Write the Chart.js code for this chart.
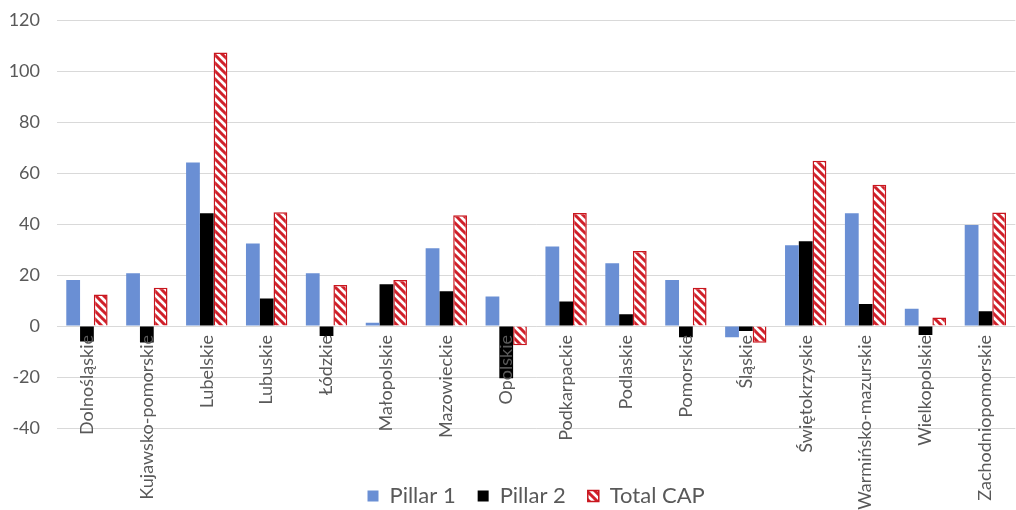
<!DOCTYPE html>
<html>
<head>
<meta charset="utf-8">
<script src="https://cdn.jsdelivr.net/npm/chart.js@4/dist/chart.umd.min.js"></script>
<style>
  html, body { margin: 0; padding: 0; background: #ffffff; }
  #wrap { width: 1016px; height: 510px; position: relative; }
</style>
</head>
<body>
<div id="wrap"><canvas id="c" width="1016" height="510"></canvas></div>
<script>
const categories = ["Dolnośląskie", "Kujawsko-pomorskie", "Lubelskie", "Lubuskie", "Łódzkie", "Małopolskie", "Mazowieckie", "Opolskie", "Podkarpackie", "Podlaskie", "Pomorskie", "Śląskie", "Świętokrzyskie", "Warmińsko-mazurskie", "Wielkopolskie", "Zachodniopomorskie"];
const pillar1 = [18, 20.7, 64.1, 32.4, 20.7, 1.3, 30.5, 11.6, 31.2, 24.6, 18, -4.4, 31.7, 44.2, 6.8, 39.6];
const pillar2 = [-6.1, -6.5, 44.2, 10.8, -3.9, 16.4, 13.6, -20.5, 9.6, 4.6, -4.4, -2, 33.2, 8.6, -3.5, 5.8];
const totalCAP = [12.4, 15, 107.3, 44.6, 16.1, 18, 43.4, -7.5, 44.3, 29.4, 15, -6.6, 64.8, 55.4, 3.3, 44.5];
const seriesNames = ["Pillar 1", "Pillar 2", "Total CAP"];
const yMin = -40, yMax = 120, yStep = 20;

function hatch(color) {
  const s = 8;
  const c = document.createElement('canvas');
  c.width = s; c.height = s;
  const g = c.getContext('2d');
  g.fillStyle = '#ffffff';
  g.fillRect(0, 0, s, s);
  g.strokeStyle = color;
  g.lineWidth = 3;
  g.beginPath();
  g.moveTo(0, 0); g.lineTo(s, s);
  g.moveTo(-1, s - 1); g.lineTo(1, s + 1);
  g.moveTo(s - 1, -1); g.lineTo(s + 1, 1);
  g.stroke();
  return g.createPattern(c, 'repeat');
}

const FONT = "Lato, 'Open Sans', sans-serif";
const TXT = '#595959';
const ctx = document.getElementById('c').getContext('2d');

new Chart(ctx, {
  type: 'bar',
  data: {
    labels: categories,
    datasets: [
      { label: seriesNames[0], data: pillar1, backgroundColor: '#6a8fd4', borderWidth: 0 },
      { label: seriesNames[1], data: pillar2, backgroundColor: '#000000', borderWidth: 0 },
      { label: seriesNames[2], data: totalCAP, backgroundColor: hatch('#d0202a'), borderColor: '#c8161e', borderWidth: 1.5 }
    ]
  },
  options: {
    responsive: false,
    animation: false,
    devicePixelRatio: 1,
    datasets: { bar: { categoryPercentage: 0.69, barPercentage: 1.0 } },
    layout: { padding: { top: 20, left: 0, right: 0, bottom: -7 } },
    plugins: {
      legend: {
        position: 'bottom',
        fullSize: false,
        title: { display: true, text: ' ', font: { size: 10 }, padding: { top: 13, bottom: 10 } },
        labels: {
          color: TXT,
          font: { family: FONT, size: 22 },
          boxWidth: 11,
          boxHeight: 11,
          padding: 22
        }
      },
      tooltip: { enabled: false }
    },
    scales: {
      x: {
        position: { y: 0 },
        z: 1,
        grid: { display: false, drawTicks: false, tickLength: 0 },
        border: { display: false },
        ticks: {
          z: 1,
          color: TXT,
          font: { family: FONT, size: 18 },
          minRotation: 90,
          maxRotation: 90,
          autoSkip: false,
          padding: 9
        },
        afterFit: (s) => { s.height = 0; }
      },
      y: {
        min: yMin,
        max: yMax,
        grid: { color: '#d9d9d9', lineWidth: 1, drawTicks: false },
        border: { display: false },
        ticks: {
          stepSize: yStep,
          color: TXT,
          font: { family: FONT, size: 18 },
          padding: 17
        },
        afterFit: (s) => { s.width = 57; s.paddingTop = 0; s.paddingBottom = 0; }
      }
    }
  }
});
</script>
</body>
</html>
